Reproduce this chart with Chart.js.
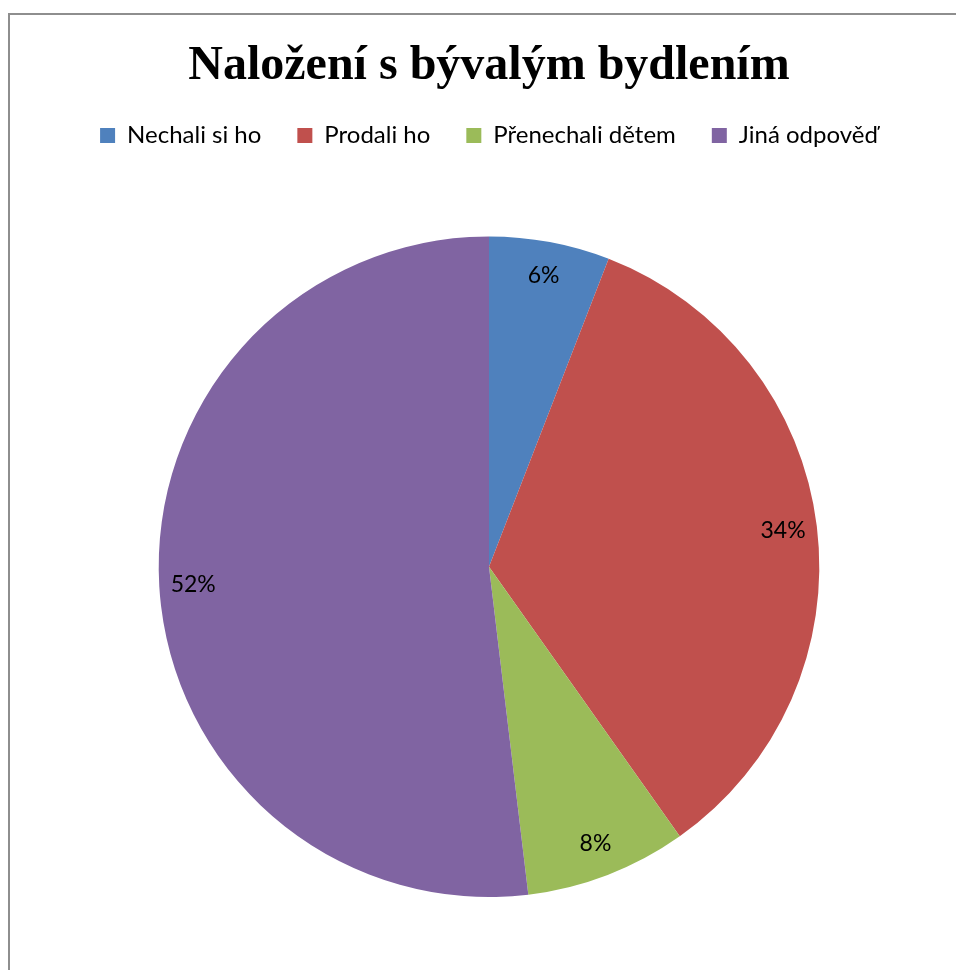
<!DOCTYPE html>
<html lang="cs">
<head>
    <meta charset="UTF-8">
    <title>Naložení s bývalým bydlením</title>
    <script src="https://cdn.jsdelivr.net/npm/chart.js"></script>
    <style>
        body { margin: 0; background: #fff; overflow: hidden; }
        .frame {
            position: absolute; left: 8px; top: 13px; width: 1000px; height: 1000px;
            border-left: 2px solid #8e8e8e; border-top: 2px solid #8e8e8e;
        }
        #chart { position: absolute; left: 0; top: 0; }
    </style>
</head>
<body>
    <div class="frame"></div>
    <canvas id="chart" width="956" height="970"></canvas>
<script>
    const KATEGORIE = ['Nechali si ho', 'Prodali ho', 'Přenechali dětem', 'Jiná odpověď'];
    const HODNOTY = [5.9, 34.3, 7.9, 51.9];
    const BARVY = ['#4F81BD', '#C0504D', '#9BBB59', '#8064A2'];

    // popisky procent uvnitř výsečí
    const popisky = {
        id: 'popisky',
        afterDatasetsDraw(chart) {
            const ctx = chart.ctx;
            const data = chart.data.datasets[0].data;
            chart.getDatasetMeta(0).data.forEach((arc, i) => {
                const { x, y, startAngle, endAngle, outerRadius } = arc.getProps(['x', 'y', 'startAngle', 'endAngle', 'outerRadius'], true);
                const mid = (startAngle + endAngle) / 2;
                const r = outerRadius - 34;
                ctx.save();
                ctx.fillStyle = '#000';
                ctx.font = '23px Lato';
                ctx.textAlign = 'center';
                ctx.textBaseline = 'middle';
                ctx.fillText(Math.round(data[i]) + '%', x + Math.cos(mid) * r, y + Math.sin(mid) * r);
                ctx.restore();
            });
        }
    };

    // místo pod legendou
    const mezeraLegendy = {
        id: 'mezeraLegendy',
        beforeInit(chart) {
            const fit = chart.legend.fit;
            chart.legend.fit = function () {
                fit.bind(chart.legend)();
                this.height += 79;
            };
        }
    };

    new Chart(document.getElementById('chart'), {
        type: 'pie',
        data: {
            labels: KATEGORIE,
            datasets: [{
                data: HODNOTY,
                backgroundColor: BARVY,
                borderWidth: 0
            }]
        },
        options: {
            responsive: false,
            animation: false,
            layout: { padding: { top: 0, left: 22, right: 0, bottom: 73 } },
            plugins: {
                title: {
                    display: true,
                    text: 'Naložení s bývalým bydlením',
                    color: '#000',
                    font: { family: 'Liberation Serif', size: 48, weight: 'bold', lineHeight: 0.85 },
                    padding: { top: 46.6, bottom: 0 }
                },
                legend: {
                    position: 'top',
                    labels: {
                        color: '#000',
                        font: { family: 'Lato', size: 24 },
                        boxWidth: 15,
                        boxHeight: 15,
                        padding: 36
                    }
                },
                tooltip: { enabled: false }
            }
        },
        plugins: [popisky, mezeraLegendy]
    });
</script>
</body>
</html>
